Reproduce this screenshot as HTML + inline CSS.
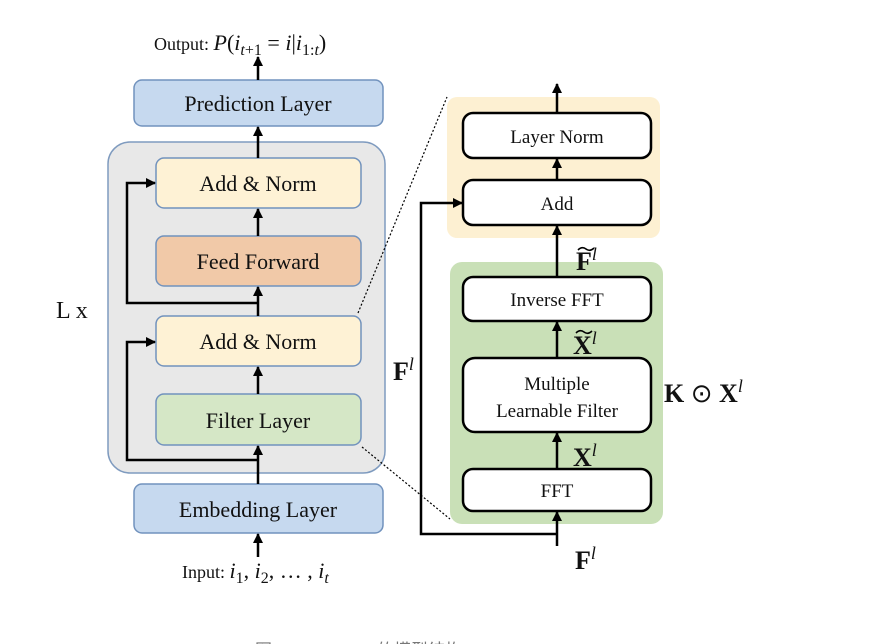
<!DOCTYPE html>
<html><head><meta charset="utf-8"><style>
html,body{margin:0;padding:0;background:#fff;width:871px;height:644px;overflow:hidden}
svg{display:block}
text{font-family:"Liberation Serif",serif;fill:#111}
</style></head><body>
<svg width="871" height="644" viewBox="0 0 871 644" xmlns="http://www.w3.org/2000/svg">
<defs>
<marker id="ah" viewBox="0 0 10 10" refX="9" refY="5" markerWidth="4" markerHeight="4" orient="auto"><path d="M0,0 L10,5 L0,10 z" fill="#000"/></marker>
</defs>
<!-- left -->
<text x="154" y="50" font-size="18">Output: <tspan font-size="22"><tspan font-style="italic">P</tspan>(<tspan font-style="italic">i</tspan><tspan font-size="16" dy="5" font-style="italic">t</tspan><tspan font-size="16">+1</tspan><tspan dy="-5"> = </tspan><tspan font-style="italic">i</tspan>|<tspan font-style="italic">i</tspan><tspan font-size="16" dy="5">1:</tspan><tspan font-size="16" font-style="italic">t</tspan><tspan dy="-5">)</tspan></tspan></text>
<rect x="134" y="80" width="249" height="46" rx="8" fill="#c6d9ef" stroke="#7192bd" stroke-width="1.5"/>
<text x="258" y="111" font-size="22" text-anchor="middle">Prediction Layer</text>
<rect x="108" y="142" width="277" height="331" rx="22" fill="#e8e8e8" stroke="#7f9bbf" stroke-width="1.5"/>
<text x="56" y="318" font-size="24">L x</text>
<rect x="156" y="158" width="205" height="50" rx="8" fill="#fef2d5" stroke="#7192bd" stroke-width="1.5"/>
<text x="258" y="191" font-size="22" text-anchor="middle">Add &amp; Norm</text>
<rect x="156" y="236" width="205" height="50" rx="8" fill="#f1c9a8" stroke="#7192bd" stroke-width="1.5"/>
<text x="258" y="269" font-size="22" text-anchor="middle">Feed Forward</text>
<rect x="156" y="316" width="205" height="50" rx="8" fill="#fef2d5" stroke="#7192bd" stroke-width="1.5"/>
<text x="258" y="349" font-size="22" text-anchor="middle">Add &amp; Norm</text>
<rect x="156" y="394" width="205" height="51" rx="8" fill="#d5e7c6" stroke="#7192bd" stroke-width="1.5"/>
<text x="258" y="428" font-size="22" text-anchor="middle">Filter Layer</text>
<rect x="134" y="484" width="249" height="49" rx="8" fill="#c6d9ef" stroke="#7192bd" stroke-width="1.5"/>
<text x="258" y="517" font-size="22" text-anchor="middle">Embedding Layer</text>
<text x="182" y="578" font-size="18">Input: <tspan font-size="22"><tspan font-style="italic">i</tspan><tspan font-size="16" dy="5">1</tspan><tspan dy="-5">, </tspan><tspan font-style="italic">i</tspan><tspan font-size="16" dy="5">2</tspan><tspan dy="-5">, … , </tspan><tspan font-style="italic">i</tspan><tspan font-size="16" dy="5" font-style="italic">t</tspan></tspan></text>
<g stroke="#000" stroke-width="2.5" fill="none" marker-end="url(#ah)">
<line x1="258" y1="80" x2="258" y2="57"/>
<line x1="258" y1="158" x2="258" y2="127"/>
<line x1="258" y1="236" x2="258" y2="209"/>
<line x1="258" y1="316" x2="258" y2="287"/>
<line x1="258" y1="394" x2="258" y2="367"/>
<line x1="258" y1="484" x2="258" y2="446"/>
<line x1="258" y1="557" x2="258" y2="534"/>
<polyline points="258,303 127,303 127,183 155,183"/>
<polyline points="258,460 127,460 127,342 155,342"/>
</g>
<!-- dotted -->
<line x1="358" y1="313" x2="447" y2="97" stroke="#000" stroke-width="1.2" stroke-dasharray="2,2"/>
<line x1="362" y1="447" x2="450" y2="519" stroke="#000" stroke-width="1.2" stroke-dasharray="2,2"/>
<!-- right -->
<rect x="447" y="97" width="213" height="141" rx="10" fill="#fdf0d2"/>
<rect x="450" y="262" width="213" height="262" rx="12" fill="#c9e0b7"/>
<g fill="#fff" stroke="#000" stroke-width="2.5">
<rect x="463" y="113" width="188" height="45" rx="10"/>
<rect x="463" y="180" width="188" height="45" rx="10"/>
<rect x="463" y="277" width="188" height="44" rx="10"/>
<rect x="463" y="358" width="188" height="74" rx="12"/>
<rect x="463" y="469" width="188" height="42" rx="10"/>
</g>
<text x="557" y="143" font-size="19" text-anchor="middle">Layer Norm</text>
<text x="557" y="210" font-size="19" text-anchor="middle">Add</text>
<text x="557" y="306" font-size="19" text-anchor="middle">Inverse FFT</text>
<text x="557" y="390" font-size="19" text-anchor="middle">Multiple</text>
<text x="557" y="417" font-size="19" text-anchor="middle">Learnable Filter</text>
<text x="557" y="497" font-size="19" text-anchor="middle">FFT</text>
<g stroke="#000" stroke-width="2.5" fill="none" marker-end="url(#ah)">
<line x1="557" y1="113" x2="557" y2="84"/>
<line x1="557" y1="180" x2="557" y2="159"/>
<line x1="557" y1="277" x2="557" y2="226"/>
<line x1="557" y1="358" x2="557" y2="322"/>
<line x1="557" y1="469" x2="557" y2="433"/>
<line x1="557" y1="546" x2="557" y2="512"/>
<polyline points="557,534 421,534 421,203 462,203"/>
</g>
<g stroke="#000" stroke-width="1.6" fill="none">
<path d="M578,250 q4,-4 8,-1 q4,3 8,-1"/>
<path d="M576,333 q4,-4 8,-1 q4,3 8,-1"/>
</g>
<g font-weight="bold" font-size="26">
<text x="576" y="270">F<tspan font-size="18" font-style="italic" font-weight="normal" dy="-10">l</tspan></text>
<text x="573" y="354">X<tspan font-size="18" font-style="italic" font-weight="normal" dy="-10">l</tspan></text>
<text x="573" y="466">X<tspan font-size="18" font-style="italic" font-weight="normal" dy="-10">l</tspan></text>
<text x="575" y="569">F<tspan font-size="18" font-style="italic" font-weight="normal" dy="-10">l</tspan></text>
<text x="393" y="380">F<tspan font-size="18" font-style="italic" font-weight="normal" dy="-10">l</tspan></text>
<text x="664" y="402">K <tspan font-weight="normal">⊙</tspan> X<tspan font-size="18" font-style="italic" font-weight="normal" dy="-10">l</tspan></text>
</g>
<text x="255" y="656" font-size="17" style="fill:#777;font-family:'Liberation Sans','Noto Sans CJK SC',sans-serif">图3: FMLP-Rec 的模型结构</text>
</svg>
</body></html>
